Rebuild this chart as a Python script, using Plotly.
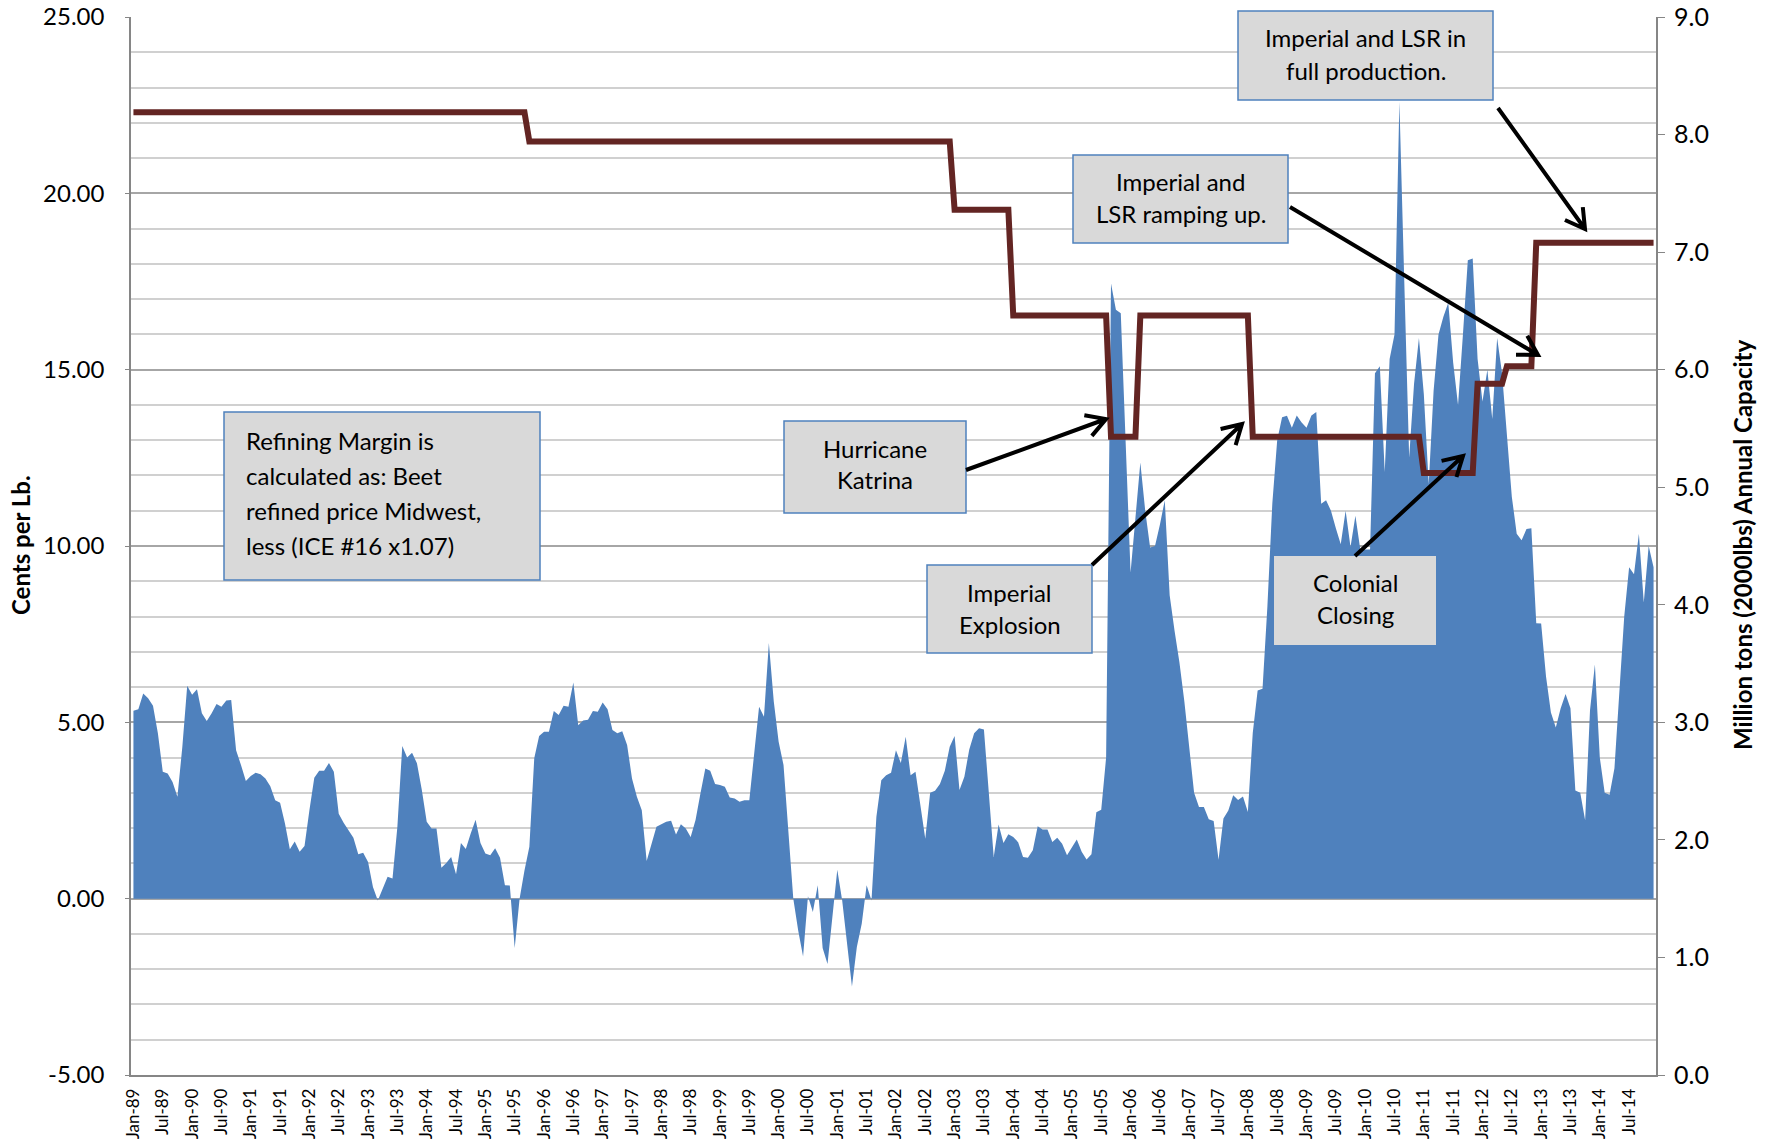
import math
import plotly.graph_objects as go

# ---------------- data ----------------
month_names = ["Jan", "Feb", "Mar", "Apr", "May", "Jun",
               "Jul", "Aug", "Sep", "Oct", "Nov", "Dec"]
months = [f"{mn}-{yr % 100:02d}" for yr in range(1989, 2015) for mn in month_names]
tick_labels = months[::6]

left_tick_vals = [-5, 0, 5, 10, 15, 20, 25]
left_tick_text = ["-5.00", "0.00", "5.00", "10.00", "15.00", "20.00", "25.00"]
right_tick_vals = [0, 1, 2, 3, 4, 5, 6, 7, 8, 9]
right_tick_text = ["0.0", "1.0", "2.0", "3.0", "4.0", "5.0", "6.0", "7.0", "8.0", "9.0"]

# Refining margin, cents per lb (left axis), monthly Jan-89 .. Dec-14
margin_1989_1995 = [
    5.33, 5.37, 5.82, 5.68, 5.47, 4.69, 3.60, 3.55, 3.31, 2.89, 4.30, 6.04,
    5.78, 5.94, 5.26, 5.04, 5.26, 5.52, 5.44, 5.62, 5.63, 4.21, 3.79, 3.34,
    3.48, 3.57, 3.53, 3.41, 3.19, 2.79, 2.72, 2.13, 1.40, 1.62, 1.33, 1.49,
    2.51, 3.43, 3.63, 3.63, 3.85, 3.60, 2.41, 2.15, 1.94, 1.73, 1.26, 1.30,
    1.04, 0.33, -0.05, 0.26, 0.62, 0.57, 2.04, 4.33, 4.00, 4.14, 3.84, 3.08,
    2.18, 1.99, 1.99, 0.88, 1.01, 1.18, 0.69, 1.58, 1.41, 1.85, 2.24, 1.58,
    1.28, 1.23, 1.43, 1.16, 0.38, 0.37, -1.40, 0.00, 0.80, 1.47, 3.98, 4.61,
]
margin_1996_2002 = [
    4.73, 4.73, 5.32, 5.21, 5.47, 5.44, 6.13, 4.92, 5.05, 5.07, 5.32, 5.30,
    5.56, 5.37, 4.78, 4.69, 4.75, 4.36, 3.41, 2.89, 2.51, 1.07, 1.56, 2.04,
    2.11, 2.18, 2.21, 1.82, 2.11, 1.99, 1.75, 2.23, 2.98, 3.69, 3.63, 3.25,
    3.22, 3.17, 2.87, 2.84, 2.75, 2.79, 2.79, 4.21, 5.44, 5.16, 7.25, 5.60,
    4.45, 3.79, 1.75, 0.00, -0.90, -1.64, 0.07, -0.38, 0.38, -1.40, -1.85, -0.50,
    0.82, -0.05, -1.28, -2.49, -1.37, -0.71, 0.38, -0.05, 2.32, 3.36, 3.50, 3.57,
    4.21, 3.85, 4.59, 3.50, 3.60, 2.65, 1.70, 3.00, 3.06, 3.25, 3.63, 4.31,
]
margin_2003_2008 = [
    4.61, 3.08, 3.46, 4.23, 4.69, 4.83, 4.80, 3.00, 1.18, 2.10, 1.58, 1.83,
    1.75, 1.60, 1.18, 1.16, 1.37, 2.05, 1.96, 1.96, 1.61, 1.73, 1.56, 1.23,
    1.47, 1.68, 1.33, 1.11, 1.26, 2.45, 2.52, 4.00, 17.44, 16.70, 16.60, 13.00,
    9.25, 10.80, 12.37, 11.00, 9.96, 10.00, 10.60, 11.30, 8.60, 7.60, 6.70, 5.60,
    4.30, 3.00, 2.60, 2.60, 2.25, 2.20, 1.10, 2.27, 2.50, 2.93, 2.80, 2.90,
    2.46, 4.70, 5.90, 5.95, 8.30, 11.20, 13.00, 13.65, 13.69, 13.35, 13.70, 13.50,
]
margin_2009_2014 = [
    13.35, 13.70, 13.80, 11.20, 11.30, 11.00, 10.50, 10.05, 11.00, 9.97, 10.86, 9.90,
    9.90, 9.90, 14.90, 15.10, 12.10, 15.30, 16.00, 22.60, 17.50, 12.50, 14.60, 15.90,
    14.30, 11.75, 14.40, 16.00, 16.50, 16.90, 15.20, 14.00, 16.00, 18.10, 18.15, 15.30,
    14.10, 15.00, 13.60, 15.90, 14.90, 13.10, 11.40, 10.35, 10.16, 10.48, 10.50, 7.81,
    7.80, 6.30, 5.28, 4.85, 5.40, 5.80, 5.40, 3.07, 3.00, 2.22, 5.34, 6.64,
    4.00, 3.00, 2.95, 3.70, 5.80, 8.00, 9.40, 9.20, 10.35, 8.40, 10.00, 9.40,
]
margin_cents = margin_1989_1995 + margin_1996_2002 + margin_2003_2008 + margin_2009_2014

# Annual refining capacity, million tons (right axis), monthly
capacity_mt = ([8.19] * 81 + [7.94] * 87 + [7.36] * 12 + [6.46] * 20 +
               [5.43] * 6 + [6.46] * 23 + [5.43] * 35 + [5.12] * 11 +
               [5.88] * 6 + [6.03] * 6 + [7.08] * 25)

assert len(months) == len(margin_cents) == len(capacity_mt) == 312

# ---------------- layout geometry (pixels) ----------------
W, H = 1771, 1145
PL, PR, PT, PB = 131, 1656, 17, 1075


def px(xp):
    return (xp - PL) / (PR - PL)


def py(yp):
    return (PB - yp) / (PB - PT)


FONT = "Lato, 'Open Sans', sans-serif"

fig = go.Figure()
fig.add_trace(go.Scatter(
    x=months, y=margin_cents, mode="lines", fill="tozeroy",
    line=dict(width=0, color="#4f81bd"), fillcolor="#4f81bd",
    name="Refining Margin", showlegend=False, hoverinfo="x+y"))
fig.add_trace(go.Scatter(
    x=months, y=capacity_mt, mode="lines", yaxis="y2",
    line=dict(width=6, color="#632523"),
    name="Capacity", showlegend=False))

shapes = []
annotations = []

# text boxes: (x0, y0, x1, y1, border, lines, line_y_centers, align, text_x)
boxes = [
    (224, 412, 540, 580, True,
     ["Refining Margin is", "calculated as: Beet", "refined price Midwest,", "less (ICE #16 x1.07)"],
     [440, 475, 510, 545], "left", 244),
    (784, 421, 966, 513, True, ["Hurricane", "Katrina"], [448, 480], "center", None),
    (927, 565, 1092, 653, True, ["Imperial", "Explosion"], [592, 624], "center", None),
    (1073, 155, 1288, 243, True, ["Imperial and", "LSR ramping up."], [181, 213], "center", None),
    (1238, 11, 1493, 100, True, ["Imperial and LSR in", "full production."], [38, 70], "center", None),
    (1274, 556, 1436, 645, False, ["Colonial", "Closing"], [582, 614], "center", None),
]
for x0, y0, x1, y1, border, lines, ys, align, tx in boxes:
    shapes.append(dict(type="rect", xref="paper", yref="paper",
                       x0=px(x0), x1=px(x1), y0=py(y1), y1=py(y0),
                       fillcolor="#d9d9d9",
                       line=dict(color="#4f81bd" if border else "rgba(0,0,0,0)",
                                 width=1.5 if border else 0),
                       layer="above"))
    for ln, yc in zip(lines, ys):
        if align == "left":
            annotations.append(dict(x=px(tx), y=py(yc), xref="paper", yref="paper",
                                    text=ln, showarrow=False, xanchor="left",
                                    yanchor="middle",
                                    font=dict(family=FONT, size=24, color="#000")))
        else:
            annotations.append(dict(x=px((x0 + x1) / 2), y=py(yc), xref="paper",
                                    yref="paper", text=ln, showarrow=False,
                                    xanchor="center", yanchor="middle",
                                    font=dict(family=FONT, size=24, color="#000")))

# arrows: tail -> head (pixels)
arrows = [
    ((966, 470), (1106, 419)),
    ((1092, 565), (1242, 424)),
    ((1355, 556), (1463, 456)),
    ((1290, 207), (1538, 355)),
    ((1498, 108), (1585, 229)),
]
for (tx0, ty0), (hx, hy) in arrows:
    ang = math.atan2(hy - ty0, hx - tx0)
    L = 22
    a1 = ang + math.radians(150)
    a2 = ang - math.radians(150)
    p1 = (hx + L * math.cos(a1), hy + L * math.sin(a1))
    p2 = (hx + L * math.cos(a2), hy + L * math.sin(a2))
    path = (f"M {px(tx0)},{py(ty0)} L {px(hx)},{py(hy)} "
            f"M {px(p1[0])},{py(p1[1])} L {px(hx)},{py(hy)} L {px(p2[0])},{py(p2[1])}")
    shapes.append(dict(type="path", xref="paper", yref="paper", path=path,
                       line=dict(color="#000000", width=4), layer="above"))

# axis titles
annotations.append(dict(x=px(20), y=py(545), xref="paper", yref="paper",
                        xanchor="center", yanchor="middle",
                        text="<b>Cents per Lb.</b>", textangle=-90, showarrow=False,
                        font=dict(family=FONT, size=24, color="#000")))
annotations.append(dict(x=px(1742), y=py(545), xref="paper", yref="paper",
                        xanchor="center", yanchor="middle",
                        text="<b>Million tons (2000lbs) Annual Capacity</b>",
                        textangle=-90, showarrow=False,
                        font=dict(family=FONT, size=24, color="#000")))

fig.update_layout(
    width=W, height=H,
    margin=dict(l=PL, r=W - PR, t=PT, b=H - PB, pad=0, autoexpand=False),
    paper_bgcolor="white", plot_bgcolor="white",
    font=dict(family=FONT, color="#000"),
    xaxis=dict(type="category", range=[-0.5, 311.5], automargin=False,
               tickmode="array", tickvals=tick_labels, ticktext=tick_labels,
               tickangle=-90, tickfont=dict(size=17, color="#000"),
               showgrid=False, showline=True, linecolor="#868686", linewidth=1.5,
               ticks="", ticklabelstandoff=5, zeroline=False),
    yaxis=dict(range=[-5, 25], automargin=False,
               tickmode="array", tickvals=left_tick_vals, ticktext=left_tick_text,
               tickfont=dict(size=24, color="#000"),
               showgrid=True, gridcolor="#a6a6a6", gridwidth=1.5,
               minor=dict(dtick=1, tick0=0, showgrid=True, gridcolor="#d0d0d0",
                          gridwidth=1.5),
               showline=True, linecolor="#868686", linewidth=1.5,
               ticks="outside", ticklen=4, tickcolor="#868686",
               ticklabelstandoff=16, zeroline=False),
    yaxis2=dict(range=[0, 9], overlaying="y", side="right", automargin=False,
                tickmode="array", tickvals=right_tick_vals, ticktext=right_tick_text,
                tickfont=dict(size=25, color="#000"),
                showgrid=False, showline=True, linecolor="#868686", linewidth=2,
                ticks="outside", ticklen=7, tickcolor="#868686",
                ticklabelstandoff=4, zeroline=False),
    shapes=shapes, annotations=annotations, showlegend=False,
)

fig.write_html("out.html", config={"displayModeBar": False},
               post_script="document.body.style.margin='0';")
